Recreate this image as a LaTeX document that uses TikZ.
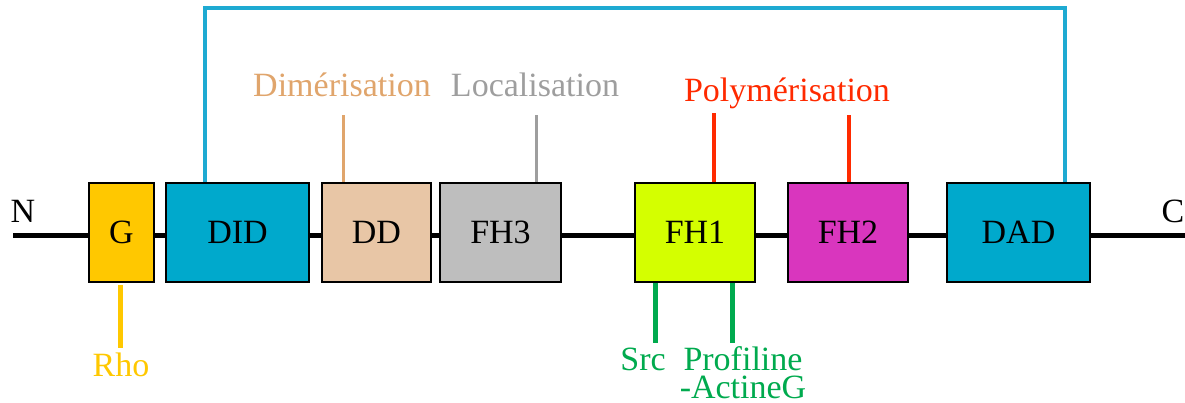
\documentclass[tikz,border=0pt]{standalone}
\usepackage{fontspec}
\setmainfont{Liberation Serif}
\definecolor{cG}{HTML}{FFC800}
\definecolor{cDID}{HTML}{00A9CC}
\definecolor{cDD}{HTML}{E8C6A6}
\definecolor{cFH3}{HTML}{BEBEBE}
\definecolor{cFH1}{HTML}{D4FF00}
\definecolor{cFH2}{HTML}{D936BE}
\definecolor{cLink}{HTML}{1EAAD2}
\definecolor{cDim}{HTML}{E0A56C}
\definecolor{cLoc}{HTML}{9E9E9E}
\definecolor{cPol}{HTML}{FF2A00}
\definecolor{cGreen}{HTML}{00AA4E}
\begin{document}
\begin{tikzpicture}[x=1pt,y=-1pt,
  every node/.style={font=\fontsize{34}{38}\selectfont, inner sep=0pt},
  domain/.style={draw=black, line width=2pt, minimum width=#1, minimum height=99pt},
  backbone/.style={line width=5pt, black},
  tick/.style={line width=3.5pt},
  lbl/.style={anchor=base}]
\useasboundingbox (0,0) rectangle (1185,402);
% backbone ends
\coordinate (n0) at (13,235);
\coordinate (c0) at (1185,235);
% domains
\node[domain=65pt, fill=cG] (G) at (121.5,232.5) {G};
\node[domain=143pt, fill=cDID] (DID) at (237.5,232.5) {DID};
\node[domain=109pt, fill=cDD] (DD) at (376.5,232.5) {DD};
\node[domain=121pt, fill=cFH3] (FH3) at (500.5,232.5) {FH3};
\node[domain=120pt, fill=cFH1] (FH1) at (695,232.5) {FH1};
\node[domain=120pt, fill=cFH2] (FH2) at (848,232.5) {FH2};
\node[domain=143pt, fill=cDID] (DAD) at (1018.5,232.5) {DAD};
% backbone segments
\draw[backbone] (n0) -- (n0 -| G.west);
\draw[backbone] (G.east |- n0) -- (DID.west |- n0);
\draw[backbone] (DID.east |- n0) -- (DD.west |- n0);
\draw[backbone] (DD.east |- n0) -- (FH3.west |- n0);
\draw[backbone] (FH3.east |- n0) -- (FH1.west |- n0);
\draw[backbone] (FH1.east |- n0) -- (FH2.west |- n0);
\draw[backbone] (FH2.east |- n0) -- (DAD.west |- n0);
\draw[backbone] (DAD.east |- n0) -- (c0);
% terminal labels
\node[lbl] (N) at (23,222) {N};
\node[lbl] (C) at (1173,222) {C};
% DID - DAD link
\draw[cLink, line width=3.5pt] (DID.north -| 205,0) |- (1065,8) -- (DAD.north -| 1065,0);
% top labels
\node[lbl, text=cDim] (dim) at (342,96) {Dimérisation};
\node[lbl, text=cLoc] (loc) at (535,96) {Localisation};
\node[lbl, text=cPol] (pol) at (787,101) {Polymérisation};
\coordinate (dimE) at (343,115);
\coordinate (locE) at (536,115);
\coordinate (pol1E) at (714,113);
\coordinate (pol2E) at (849,115);
\draw[tick, cDim, line width=3pt] (dimE) -- (dimE |- DD.north);
\draw[tick, cLoc, line width=3pt] (locE) -- (locE |- FH3.north);
\draw[tick, cPol, line width=4pt] (pol1E) -- (pol1E |- FH1.north);
\draw[tick, cPol, line width=3.5pt] (pol2E) -- (pol2E |- FH2.north);
% bottom labels
\node[lbl, text=cG] (rho) at (121,376) {Rho};
\node[lbl, text=cGreen] (src) at (643,370) {Src};
\node[lbl, text=cGreen, align=center, font=\fontsize{34}{28}\selectfont] (prof) at (743,398) {Profiline\\-ActineG};
\coordinate (rhoE) at (120,348);
\coordinate (srcE) at (655,343);
\coordinate (profE) at (732,343);
\draw[tick, cG, line width=5pt] (rhoE |- G.south) ++(0,2) -- (rhoE);
\draw[tick, cGreen, line width=5pt] (srcE |- FH1.south) -- (srcE);
\draw[tick, cGreen, line width=5pt] (profE |- FH1.south) -- (profE);
\end{tikzpicture}
\end{document}
